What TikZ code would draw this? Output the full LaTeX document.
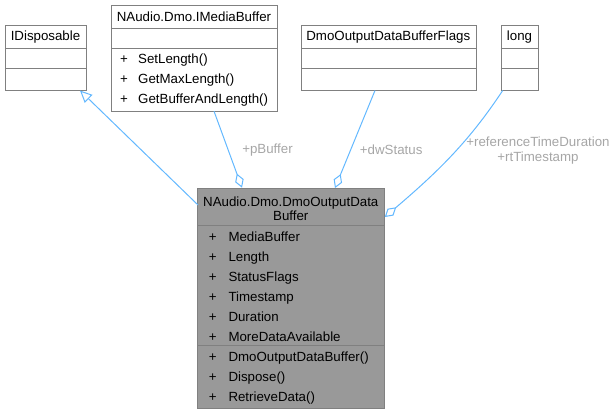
\documentclass[tikz,border=0pt]{standalone}
\usepackage{fontspec}
\setmainfont{Liberation Sans}
\usetikzlibrary{arrows.meta}
\definecolor{edgeblue}{HTML}{63B8FF}
\definecolor{boxline}{HTML}{808080}
\definecolor{lblgrey}{HTML}{A6A6A6}
\definecolor{mainfill}{HTML}{999999}
\tikzset{
  cls/.style={draw=boxline, line width=1pt, fill=white, inner sep=0pt, anchor=north west},
  sep/.style={draw=boxline, line width=1pt},
  txt/.style={inner sep=0pt, font=\fontsize{13.3}{15}\selectfont},
  lbl/.style={inner sep=0pt, font=\fontsize{13.3}{15}\selectfont, text=lblgrey, align=center},
  edge/.style={draw=edgeblue, line width=1pt},
  inh/.style={edge, -{Triangle[open, length=12pt, width=11pt, fill=white]}},
  agg/.style={edge, -{Diamond[open, length=15pt, width=9pt, fill=white]}},
}
\begin{document}
\begin{tikzpicture}[x=1pt, y=-1pt]
\useasboundingbox (0,0) rectangle (614,414);
% IDisposable
\node[cls, minimum width=81pt, minimum height=65pt] (idisp) at (5,25) {};
\draw[sep] (5,48.3) -- (86,48.3);
\draw[sep] (5,68.3) -- (86,68.3);
\node[txt] (idispT) at (45.5,37.5) {IDisposable};
% IMediaBuffer
\node[cls, minimum width=166pt, minimum height=105.7pt] (imb) at (111,5) {};
\draw[sep] (111,28.3) -- (277,28.3);
\draw[sep] (111,48.3) -- (277,48.3);
\node[txt] (imbT) at (194,17) {NAudio.Dmo.IMediaBuffer};
\node[txt, anchor=base] (imbp1) at (124,63.5) {+};
\node[txt, anchor=base west] (imbm1) at (138,63.5) {SetLength()};
\node[txt, anchor=base] (imbp2) at (124,83.5) {+};
\node[txt, anchor=base west] (imbm2) at (138,83.5) {GetMaxLength()};
\node[txt, anchor=base] (imbp3) at (124,103.5) {+};
\node[txt, anchor=base west] (imbm3) at (138,103.5) {GetBufferAndLength()};
% Flags
\node[cls, minimum width=174.7pt, minimum height=65pt] (flags) at (301,25) {};
\draw[sep] (301,48.3) -- (475.7,48.3);
\draw[sep] (301,68.3) -- (475.7,68.3);
\node[txt] (flagsT) at (388.3,37.5) {DmoOutputDataBufferFlags};
% long
\node[cls, minimum width=37.6pt, minimum height=65pt] (long) at (500.7,25) {};
\draw[sep] (500.7,48.3) -- (538.3,48.3);
\draw[sep] (500.7,68.3) -- (538.3,68.3);
\node[txt] (longT) at (519.5,37.5) {long};
% Main
\node[cls, fill=mainfill, minimum width=187pt, minimum height=220.6pt] (main) at (197.3,187.7) {};
\draw[sep] (197.3,226) -- (384.3,226);
\draw[sep] (197.3,346) -- (384.3,346);
\node[txt, anchor=base] (mainT1) at (290.8,206.5) {NAudio.Dmo.DmoOutputData};
\node[txt, anchor=base] (mainT2) at (290.8,220.5) {Buffer};
\foreach \y/\t [count=\i] in {241.5/MediaBuffer, 261.5/Length, 281.5/StatusFlags, 301.5/Timestamp, 321.5/Duration, 341.5/MoreDataAvailable, 361.5/DmoOutputDataBuffer(), 381.5/Dispose(), 401.5/RetrieveData()}{
  \node[txt, anchor=base] (mp\i) at (212.7,\y) {+};
  \node[txt, anchor=base west] (mm\i) at (228.3,\y) {\t};
}
% connectors
\coordinate (inhS) at (198,205);
\coordinate (inhE) at (80,90.5);
\draw[inh] (inhS) -- (inhE);
\coordinate (pbS) at (214,111.2);
\coordinate (pbE) at (242,187.7);
\draw[agg] (pbS) -- (pbE);
\coordinate (dwS) at (375,90.5);
\coordinate (dwE) at (335,188);
\draw[agg] (dwS) -- (dwE);
\coordinate (lgS) at (502.7,90.5);
\coordinate (lgE) at (384.8,217);
\draw[agg] (lgS) .. controls (470,140) and (440,170) .. (lgE);
% labels
\node[lbl] (pbL) at (267.5,150) {+pBuffer};
\node[lbl] (dwL) at (391.2,150) {+dwStatus};
\node[lbl] (lgL) at (538,150.5) {+referenceTimeDuration\\+rtTimestamp};
\end{tikzpicture}
\end{document}
